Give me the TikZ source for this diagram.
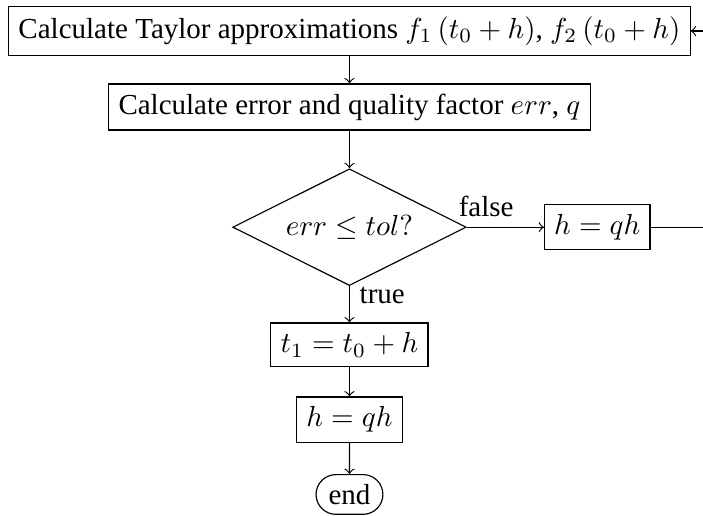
\documentclass[tikz,border=0pt]{standalone}
\usepackage{amsmath,amssymb}
\usepackage[no-math]{fontspec}
\setmainfont{Liberation Serif}
\usepackage{tikz}
\usetikzlibrary{positioning,shapes.geometric,shapes.misc}
\tikzset{
  box/.style={draw, align=center},
  decision/.style={draw, diamond, aspect=2, align=center},
  terminal/.style={draw, rounded rectangle, align=center},
  line/.style={->}
}
\begin{document}
\begin{tikzpicture}[node distance=10pt]
  \useasboundingbox (-120.5pt,10.7pt) rectangle (121.9pt,-167.2pt);
  \node[box] (taylor) {Calculate Taylor approximations $f_1\left(t_0+h\right)$, $f_2\left(t_0+h\right)$};
  \node[box, below=9.5pt of taylor] (error) {Calculate error and quality factor $err$, $q$};
  \node[decision, below=13pt of error] (check) {$err \leq tol?$};
  \node[box, right=26.6pt of check] (shrink) {$h = qh$};
  \node[box, below=12.5pt of check] (advance) {$t_1 = t_0 + h$};
  \node[box, below=10pt of advance] (update) {$h = qh$};
  \node[terminal, below=10.8pt of update] (stop) {end};
  \coordinate[right=30pt of shrink] (back);
  \draw[line] (taylor) -- (error);
  \draw[line] (error) -- (check);
  \draw[line] (check) -- node[above, near start] {false} (shrink);
  \draw[line] (check) -- node[right, near start] {true} (advance);
  \draw[line] (advance) -- (update);
  \draw[line] (update) -- (stop);
  \draw[line] (shrink) -- (back) |- (taylor);
\end{tikzpicture}
\end{document}
